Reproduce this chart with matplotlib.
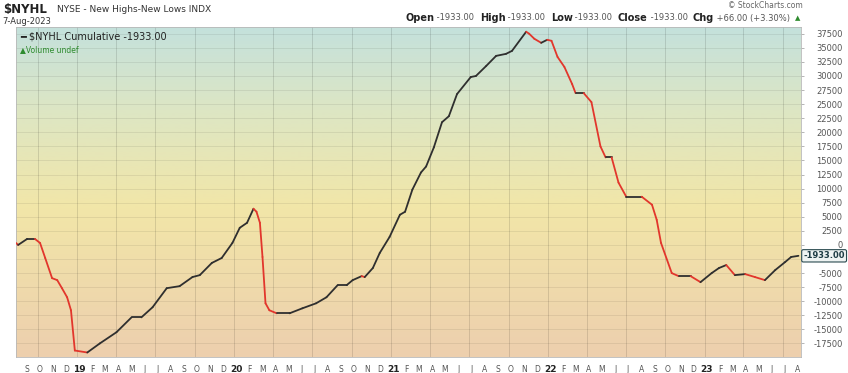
import numpy as np
import matplotlib
matplotlib.use("Agg")
import matplotlib.pyplot as plt
import matplotlib.dates as mdates
from matplotlib.collections import LineCollection
from matplotlib.colors import LinearSegmentedColormap

# cumulative NYSE new highs - new lows
dates = [
    "2018-08-11", "2018-08-16", "2018-09-06", "2018-09-24", "2018-10-06", "2018-10-18",
    "2018-11-03", "2018-11-15", "2018-11-26", "2018-12-08", "2018-12-17", "2018-12-26",
    "2019-01-24", "2019-02-22", "2019-04-02", "2019-05-07", "2019-05-30", "2019-06-25",
    "2019-07-28", "2019-08-27", "2019-09-26", "2019-10-13", "2019-11-10", "2019-12-03",
    "2019-12-28", "2020-01-14", "2020-01-31", "2020-02-15", "2020-02-22", "2020-03-01",
    "2020-03-07", "2020-03-14", "2020-03-23", "2020-04-09", "2020-05-09", "2020-06-08",
    "2020-07-10", "2020-08-03", "2020-08-29", "2020-09-19", "2020-10-03", "2020-10-24",
    "2020-10-31", "2020-11-19", "2020-12-05", "2020-12-28", "2021-01-21", "2021-02-02",
    "2021-02-19", "2021-03-11", "2021-03-23", "2021-04-10", "2021-04-29", "2021-05-15",
    "2021-06-03", "2021-07-05", "2021-07-17", "2021-08-10", "2021-09-02", "2021-09-25",
    "2021-10-09", "2021-11-11", "2021-11-18", "2021-11-30", "2021-12-16", "2021-12-30",
    "2022-01-09", "2022-01-23", "2022-02-08", "2022-02-26", "2022-03-06", "2022-03-25",
    "2022-04-12", "2022-05-03", "2022-05-15", "2022-05-29", "2022-06-14", "2022-07-02",
    "2022-08-07", "2022-08-31", "2022-09-11", "2022-09-21", "2022-10-16", "2022-11-01",
    "2022-11-29", "2022-12-22", "2023-01-17", "2023-02-03", "2023-02-20", "2023-03-12",
    "2023-04-05", "2023-04-28", "2023-05-21", "2023-06-14", "2023-07-07", "2023-07-21",
    "2023-08-07",
]
values = [
    350, 0, 1070, 1070, 350, -2320,
    -5900, -6250, -7680, -9290, -11600, -18750,
    -19100, -17500, -15500, -12860, -12860, -11070,
    -7680, -7320, -5700, -5360, -3200, -2320,
    360, 3040, 3930, 6430, 5900, 3930,
    -2140, -10360, -11600, -12140, -12140, -11250,
    -10360, -9290, -7140, -7140, -6250, -5540,
    -5710, -4100, -1430, 1430, 5360, 5890,
    9820, 12860, 13930, 17320, 21790, 22860,
    26790, 29820, 30000, 31790, 33570, 33930,
    34460, 37860, 37500, 36610, 35890, 36430,
    36250, 33390, 31610, 28570, 26960, 26960,
    25360, 17500, 15540, 15540, 11070, 8570,
    8570, 7140, 4460, 360, -5000, -5540,
    -5540, -6610, -5000, -4100, -3570, -5360,
    -5180, -5710, -6250, -4460, -3040, -2140,
    -1933,
]
yticks = list(range(-17500, 37501, 2500))
month_letters = ["J", "F", "M", "A", "M", "J", "J", "A", "S", "O", "N", "D"]
last_label = "-1933.00"
header_parts = [("Open", True), (" -1933.00  ", False), ("High", True), (" -1933.00  ", False),
                ("Low", True), (" -1933.00  ", False), ("Close", True), (" -1933.00  ", False),
                ("Chg", True), (" +66.00 (+3.30%) ", False)]

x = mdates.date2num(np.array(dates, dtype="datetime64[D]"))
y = np.array(values, dtype=float)

fig = plt.figure(figsize=(8.48, 3.73), dpi=100)
ax = fig.add_axes([16 / 848, 1 - 357 / 373, (801 - 16) / 848, (357 - 27) / 373])

x0 = mdates.date2num(np.datetime64("2018-08-11"))
x1 = mdates.date2num(np.datetime64("2023-08-13"))
ax.set_xlim(x0, x1)
ax.set_ylim(-19900, 38700)

# background gradient
cmap = LinearSegmentedColormap.from_list(
    "bg", [(0, "#edcfae"), (0.45, "#f2e6a8"), (0.75, "#dde6c4"), (1, "#c4e1dc")])
grad = np.linspace(0, 1, 256).reshape(-1, 1)
ax.imshow(grad, extent=[0, 1, 0, 1], transform=ax.transAxes, cmap=cmap,
          origin="lower", aspect="auto", zorder=0)

# grid
for t in yticks:
    ax.axhline(t, color="#000000", alpha=0.07, lw=0.7, zorder=1)
for yr in range(2018, 2024):
    for mo in (1, 4, 7, 10):
        d = mdates.date2num(np.datetime64(f"{yr}-{mo:02d}-01"))
        if x0 < d < x1:
            ax.axvline(d, color="#000000", alpha=0.12, lw=0.7, zorder=1)

# line, red when falling
pts = np.column_stack([x, y]).reshape(-1, 1, 2)
segs = np.concatenate([pts[:-1], pts[1:]], axis=1)
cols = ["#e2362c" if y[i + 1] < y[i] else "#2f2f2f" for i in range(len(y) - 1)]
ax.add_collection(LineCollection(segs, colors=cols, linewidths=1.3, zorder=3,
                                 capstyle="round", joinstyle="round"))

# axes styling
for s in ax.spines.values():
    s.set_color("#b8b8b8")
    s.set_linewidth(0.6)
ax.yaxis.tick_right()
ax.set_yticks(yticks)
ax.set_yticklabels(["" if t == -2500 else str(t) for t in yticks])
ax.tick_params(axis="y", length=2, width=0.5, color="#999999", pad=28,
               labelsize=6, labelcolor="#555555")
for lab in ax.get_yticklabels():
    lab.set_horizontalalignment("right")

# month labels
ax.set_xticks([])
for yr in range(2018, 2024):
    for mo in range(1, 13):
        d = mdates.date2num(np.datetime64(f"{yr}-{mo:02d}-01"))
        if d < mdates.date2num(np.datetime64("2018-09-01")) or d + 5 > x1:
            continue
        lab = str(yr)[2:] if mo == 1 else month_letters[mo - 1]
        bold = mo == 1
        ax.text(d + 5, -0.025, lab, transform=ax.get_xaxis_transform(), ha="center",
                va="top", fontsize=6.5 if bold else 5.5,
                fontweight="bold" if bold else "normal",
                color="#222222" if bold else "#555555")

# last value box
ax.text(1.003, -1933, last_label, transform=ax.get_yaxis_transform(), ha="left",
        va="center", fontsize=6, fontweight="bold", color="#1e3c44",
        bbox=dict(boxstyle="round,pad=0.2", fc="#eef3f2", ec="#2a4a50", lw=0.8))

# header texts
fig.text(3 / 848, 1 - 10 / 373, "$NYHL", fontsize=8.5, fontweight="bold",
         color="#222222", va="center")
fig.text(57 / 848, 1 - 10 / 373, "NYSE - New Highs-New Lows INDX", fontsize=6.5,
         color="#333333", va="center")
fig.text(2 / 848, 1 - 21 / 373, "7-Aug-2023", fontsize=6, color="#333333", va="center")
fig.text(803 / 848, 1 - 6 / 373, "© StockCharts.com", fontsize=5.5, color="#666666",
         va="center", ha="right")

# Open/High/Low/Close line, laid out right to left
fig.canvas.draw()
renderer = fig.canvas.get_renderer()
xr = 800
t = fig.text(xr / 848, 1 - 18 / 373, "▲", fontsize=5, color="#2e8b2e",
             va="center", ha="right")
xr -= t.get_window_extent(renderer).width + 2
for txt, bold in reversed(header_parts):
    t = fig.text(xr / 848, 1 - 18 / 373, txt, fontsize=7 if bold else 6,
                 fontweight="bold" if bold else "normal",
                 color="#222222" if bold else "#555555", va="center", ha="right")
    xr -= t.get_window_extent(renderer).width

ax.text(0.005, 0.985, "━ $NYHL Cumulative -1933.00", transform=ax.transAxes,
        fontsize=7, color="#222222", va="top", zorder=5)
ax.text(0.005, 0.945, "▲Volume undef", transform=ax.transAxes,
        fontsize=5.5, color="#2e8b2e", va="top", zorder=5)

fig.savefig("out.png", dpi=100)
